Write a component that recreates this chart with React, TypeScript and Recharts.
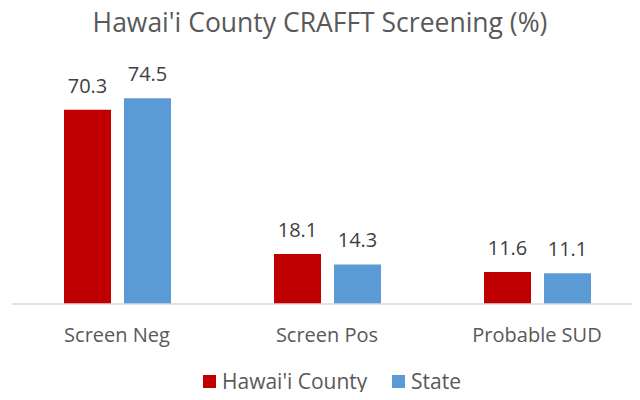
import React from 'react';
import { BarChart, Bar, XAxis, YAxis, Legend, LabelList } from 'recharts';

const categories = ['Screen Neg', 'Screen Pos', 'Probable SUD'];
const countyValues = [70.3, 18.1, 11.6];
const stateValues = [74.5, 14.3, 11.1];

const COUNTY_COLOR = '#C00000';
const STATE_COLOR = '#5B9BD5';
const FONT = '"Open Sans", "Noto Sans", sans-serif';

const data = categories.map((name, i) => ({
  name,
  county: countyValues[i],
  state: stateValues[i],
}));

const legendItems = [
  { label: "Hawai'i County", color: COUNTY_COLOR, width: 189 },
  { label: 'State', color: STATE_COLOR, width: 80 },
];

const renderLegend = () => (
  <div style={{ display: 'flex', paddingLeft: 203, height: 28, alignItems: 'center', fontFamily: FONT, fontSize: 21, color: '#595959' }}>
    {legendItems.map((item) => (
      <div key={item.label} style={{ display: 'flex', alignItems: 'center', width: item.width, whiteSpace: 'nowrap' }}>
        <span style={{ width: 13, height: 13, background: item.color, display: 'inline-block', marginRight: 6, flexShrink: 0 }} />
        <span>{item.label}</span>
      </div>
    ))}
  </div>
);

const App: React.FC = () => {
  return (
    <div style={{ position: 'relative', width: 640, height: 400, margin: -8, overflow: 'hidden', background: '#fff' }}>
      <div
        style={{
          position: 'absolute',
          top: 4,
          left: 0,
          width: 640,
          textAlign: 'center',
          fontFamily: FONT,
          fontSize: 26.5,
          color: '#595959',
          whiteSpace: 'nowrap',
        }}
      >
        Hawai'i County CRAFFT Screening (%)
      </div>
      <BarChart
        width={660}
        height={400}
        data={data}
        margin={{ top: 83, right: 18, left: 12, bottom: 38 }}
        barGap={13}
      >
        <XAxis
          dataKey="name"
          height={30}
          tickLine={false}
          tickMargin={18}
          axisLine={{ stroke: '#D9D9D9', strokeWidth: 1.5 }}
          tick={{ fill: '#595959', fontSize: 20, fontFamily: FONT }}
          interval={0}
        />
        <YAxis hide domain={[0, 80]} />
        <Legend content={renderLegend} wrapperStyle={{ top: 367, left: 0, width: 640 }} />
        <Bar dataKey="county" name="Hawai'i County" fill={COUNTY_COLOR} barSize={47} isAnimationActive={false}>
          <LabelList dataKey="county" position="top" offset={17} fill="#404040" fontSize={20} fontFamily={FONT} />
        </Bar>
        <Bar dataKey="state" name="State" fill={STATE_COLOR} barSize={47} isAnimationActive={false}>
          <LabelList dataKey="state" position="top" offset={17} fill="#404040" fontSize={20} fontFamily={FONT} />
        </Bar>
      </BarChart>
    </div>
  );
};

export default App;
